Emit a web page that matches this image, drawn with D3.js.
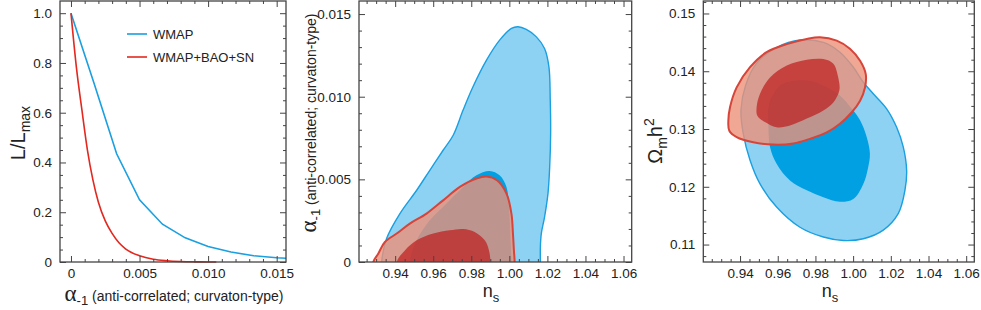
<!DOCTYPE html>
<html>
<head>
<meta charset="utf-8">
<script src="https://cdn.jsdelivr.net/npm/d3@7"></script>
<style>
  body { margin: 0; background: #fff; }
  svg { display: block; font-family: "Liberation Sans", Arial, sans-serif; }
  .tick text { font-size: 13.5px; fill: #222; }
  .tick line { stroke: #444; }
</style>
</head>
<body>
<div id="chart"></div>
<script>
// ---- panel 1: likelihood of alpha_-1 ----
const likeAlphaWMAP = [0, 0.00167, 0.00333, 0.005, 0.00667, 0.00833, 0.01, 0.01167, 0.01333, 0.015, 0.01667];
const likeWMAP = [1.0, 0.72, 0.435, 0.25, 0.152, 0.097, 0.062, 0.040, 0.025, 0.017, 0.012];
const likeAlphaAll = [0, 0.0004, 0.0008, 0.0012, 0.0016, 0.002, 0.0025, 0.003, 0.0035, 0.004, 0.005, 0.006, 0.007, 0.008, 0.009, 0.010, 0.0106];
const likeAll = [1.0, 0.78, 0.61, 0.45, 0.33, 0.24, 0.165, 0.115, 0.077, 0.052, 0.025, 0.011, 0.005, 0.002, 0.0007, 0.0002, 0];
const legendNames = ["WMAP", "WMAP+BAO+SN"];

// ---- panel 2: n_s vs alpha_-1 contours (truncated at alpha = 0) ----
const p2BlueOuter = [[0.9329,0],[0.9355,0.00142],[0.9425,0.00293],[0.9513,0.00434],[0.9582,0.00555],[0.9652,0.00676],[0.9705,0.00767],[0.9757,0.00919],[0.9809,0.0106],[0.9880,0.01221],[0.9949,0.01342],[1.0011,0.01413],[1.0045,0.01423],[1.0089,0.01407],[1.0142,0.01362],[1.0185,0.01292],[1.0208,0.01181],[1.0215,0.00979],[1.0217,0.00777],[1.0212,0.00575],[1.0203,0.00414],[1.0185,0.00272],[1.0168,0.00172],[1.0163,0.00091],[1.0163,0]];
const p2BlueInner = [[0.9477,0],[0.9513,0.00131],[0.9582,0.00252],[0.9670,0.00354],[0.9757,0.00454],[0.9827,0.00525],[0.9897,0.00551],[0.9949,0.00525],[0.9985,0.00454],[0.9998,0.00333],[1.0005,0.00172],[1.0011,0]];
const p2RedOuter = [[0.9285,0],[0.9311,0.0005],[0.9346,0.00121],[0.9408,0.00172],[0.9477,0.00232],[0.9565,0.00293],[0.9652,0.00373],[0.9740,0.00454],[0.9827,0.00505],[0.9880,0.00517],[0.9935,0.00495],[0.9985,0.00414],[1.0011,0.00293],[1.0019,0.00172],[1.0024,0.00071],[1.0028,0]];
const p2RedInner = [[0.9408,0],[0.9451,0.0007],[0.9513,0.00131],[0.9600,0.00172],[0.9687,0.00192],[0.9757,0.0020],[0.9818,0.00182],[0.9871,0.00131],[0.9893,0.0007],[0.9901,0]];

// ---- panel 3: n_s vs Omega_m h^2 contours ----
const p3BlueOuter = [[0.9417,0.1292],[0.9453,0.1246],[0.9506,0.1205],[0.9594,0.1165],[0.9718,0.1130],[0.9842,0.1113],[0.9948,0.1107],[1.0054,0.1110],[1.0160,0.1125],[1.0240,0.1154],[1.0275,0.1194],[1.0284,0.1228],[1.0266,0.1269],[1.0231,0.1303],[1.0178,0.1335],[1.0107,0.1361],[1.0054,0.1381],[1.0001,0.1407],[0.9930,0.1433],[0.9842,0.1450],[0.9718,0.1454],[0.9594,0.1441],[0.9488,0.1414],[0.9430,0.1376],[0.9405,0.1333]];
const p3BlueInner = [[0.9550,0.1315],[0.9559,0.1269],[0.9594,0.1240],[0.9665,0.1211],[0.9754,0.1194],[0.9842,0.1182],[0.9930,0.1174],[1.0001,0.1179],[1.0054,0.1205],[1.0080,0.1234],[1.0089,0.1257],[1.0072,0.1286],[1.0037,0.1315],[0.9993,0.1335],[0.9930,0.1358],[0.9860,0.1372],[0.9771,0.1383],[0.9683,0.1383],[0.9612,0.1375],[0.9568,0.1355],[0.9550,0.1335]];
const p3RedOuter = [[0.9338,0.1315],[0.9347,0.1338],[0.9382,0.1372],[0.9453,0.1407],[0.9541,0.1433],[0.9648,0.1447],[0.9754,0.1456],[0.9824,0.1459],[0.9913,0.1453],[0.9983,0.1439],[1.0037,0.1418],[1.0067,0.1395],[1.0063,0.1372],[1.0037,0.1349],[0.9993,0.1329],[0.9930,0.1309],[0.9860,0.1294],[0.9771,0.1283],[0.9683,0.1275],[0.9577,0.1273],[0.9470,0.1277],[0.9382,0.1286],[0.9343,0.1297]];
const p3RedInner = [[0.9488,0.1338],[0.9506,0.1361],[0.9559,0.1389],[0.9648,0.1410],[0.9754,0.1420],[0.9842,0.1421],[0.9895,0.1413],[0.9921,0.1389],[0.9927,0.1367],[0.9895,0.1346],[0.9842,0.1332],[0.9754,0.1318],[0.9665,0.1306],[0.9594,0.1303],[0.9532,0.1312],[0.9492,0.1323]];

// tick labels
const p1XTicks = [0, 0.005, 0.010, 0.015], p1XLabels = ["0", "0.005", "0.010", "0.015"];
const p1YTicks = [0, 0.2, 0.4, 0.6, 0.8, 1.0], p1YLabels = ["0", "0.2", "0.4", "0.6", "0.8", "1.0"];
const nsTicks = [0.94, 0.96, 0.98, 1.00, 1.02, 1.04, 1.06], nsLabels = ["0.94", "0.96", "0.98", "1.00", "1.02", "1.04", "1.06"];
const p2YTicks = [0, 0.005, 0.010, 0.015], p2YLabels = ["0", "0.005", "0.010", "0.015"];
const p3YTicks = [0.11, 0.12, 0.13, 0.14, 0.15], p3YLabels = ["0.11", "0.12", "0.13", "0.14", "0.15"];

const colBlueLine = "#1a9fe0", colRedLine = "#e2281f";
const colBlueLight = "#8ed2f3", colBlueDark = "#00a0e3";
const colRedLight = "rgba(236,145,120,0.8)", colRedDark = "rgba(188,30,32,0.72)", colRedStroke = "#d6443a";

const svg = d3.select("#chart").append("svg").attr("width", 981).attr("height", 310);

const plotTop = 1, plotBottom = 262;

function frame(g, x, y, xt, xl, yt, yl, xMinor, yMinor) {
    let w = x.range()[1], h = y.range()[0];
    g.append("g").attr("transform", `translate(0,${h})`)
        .call(d3.axisBottom(x).tickValues(xt).tickFormat((d, i) => xl[i]).tickSizeInner(-6).tickSizeOuter(0).tickPadding(6));
    g.append("g").attr("transform", `translate(0,${h})`)
        .call(d3.axisBottom(x).tickValues(xMinor).tickFormat("").tickSizeInner(-3).tickSizeOuter(0));
    g.append("g").call(d3.axisTop(x).tickValues(xt).tickFormat("").tickSizeInner(-6).tickSizeOuter(0));
    g.append("g").call(d3.axisTop(x).tickValues(xMinor).tickFormat("").tickSizeInner(-3).tickSizeOuter(0));
    g.append("g").call(d3.axisLeft(y).tickValues(yt).tickFormat((d, i) => yl[i]).tickSizeInner(-6).tickSizeOuter(0).tickPadding(8));
    g.append("g").call(d3.axisLeft(y).tickValues(yMinor).tickFormat("").tickSizeInner(-3).tickSizeOuter(0));
    g.append("g").attr("transform", `translate(${w},0)`)
        .call(d3.axisRight(y).tickValues(yt).tickFormat("").tickSizeInner(-6).tickSizeOuter(0));
    g.append("g").attr("transform", `translate(${w},0)`)
        .call(d3.axisRight(y).tickValues(yMinor).tickFormat("").tickSizeInner(-3).tickSizeOuter(0));
    g.selectAll(".domain").remove();
    g.selectAll(".tick line").attr("stroke", "#444").attr("stroke-width", 1);
    g.append("rect").attr("x", 0).attr("y", 0).attr("width", w).attr("height", h)
        .attr("fill", "none").attr("stroke", "#444").attr("stroke-width", 1.3);
}

function minors(a, b, step, majors) {
    return d3.range(Math.ceil(a / step - 1e-6), Math.floor(b / step + 1e-6) + 1)
        .map(k => +(k * step).toFixed(6))
        .filter(v => !majors.some(m => Math.abs(m - v) < step / 10));
}

// ---------------- panel 1 ----------------
let p1 = svg.append("g").attr("transform", `translate(60,${plotTop})`);
let x1 = d3.scaleLinear().domain([-0.0008, 0.01568]).range([0, 226]);
let y1 = d3.scaleLinear().domain([0, 1.049]).range([plotBottom - plotTop, 0]);
p1.append("clipPath").attr("id", "clip1").append("rect").attr("width", 226).attr("height", plotBottom - plotTop);
let line1 = d3.line().x(d => x1(d[0])).y(d => y1(d[1]));
p1.append("path").datum(d3.zip(likeAlphaWMAP, likeWMAP))
    .attr("clip-path", "url(#clip1)")
    .attr("d", line1).attr("fill", "none").attr("stroke", colBlueLine).attr("stroke-width", 1.6);
p1.append("path").datum(d3.zip(likeAlphaAll, likeAll))
    .attr("d", line1.curve(d3.curveMonotoneX)).attr("fill", "none").attr("stroke", colRedLine).attr("stroke-width", 1.6);
frame(p1, x1, y1, p1XTicks, p1XLabels, p1YTicks, p1YLabels,
    minors(0, 0.0156, 0.001, p1XTicks), minors(0, 1.04, 0.05, p1YTicks));

// legend
let leg = p1.append("g").attr("transform", "translate(67,33)");
[colBlueLine, colRedLine].forEach((c, i) => {
    leg.append("line").attr("x1", 0).attr("x2", 20).attr("y1", i * 23).attr("y2", i * 23)
        .attr("stroke", c).attr("stroke-width", 1.6);
    leg.append("text").attr("x", 26).attr("y", i * 23 + 5).attr("font-size", "13px").attr("fill", "#222")
        .text(legendNames[i]);
});

// axis titles panel 1
let t1 = svg.append("text").attr("transform", "translate(25,133) rotate(-90)")
    .attr("text-anchor", "middle").attr("fill", "#222");
t1.append("tspan").attr("font-size", "20px").text("L/L");
t1.append("tspan").attr("font-size", "14px").attr("dy", 5).text("max");

function alphaLabel(sel) {
    sel.append("tspan").attr("font-size", "23px").attr("font-family", "Liberation Serif, serif").text("α");
    sel.append("tspan").attr("font-size", "13px").attr("dy", 4).text("-1");
    sel.append("tspan").attr("font-size", "14px").attr("dy", -4).text(" (anti-correlated; curvaton-type)");
}
svg.append("text").attr("x", 174).attr("y", 301).attr("text-anchor", "middle").attr("fill", "#222").call(alphaLabel);

// ---------------- panel 2 ----------------
let p2 = svg.append("g").attr("transform", `translate(359,${plotTop})`);
let x2 = d3.scaleLinear().domain([0.921, 1.0643]).range([0, 272.7]);
let y2 = d3.scaleLinear().domain([0, 0.01579]).range([plotBottom - plotTop, 0]);
p2.append("clipPath").attr("id", "clip2").append("rect").attr("width", 272.7).attr("height", plotBottom - plotTop);
let cont2 = d3.line().x(d => x2(d[0])).y(d => y2(d[1])).curve(d3.curveCatmullRomClosed.alpha(0.5));
// extend truncated contours below alpha = 0 so the clip gives a straight cut
function cut(pts) {
    let a = pts[0], b = pts[pts.length - 1];
    return [[a[0], -0.0012]].concat(pts, [[b[0], -0.0012]]);
}
let c2 = p2.append("g").attr("clip-path", "url(#clip2)");
c2.append("path").attr("d", cont2(cut(p2BlueOuter))).attr("fill", colBlueLight).attr("stroke", colBlueLine).attr("stroke-width", 1.4);
c2.append("path").attr("d", cont2(cut(p2BlueInner))).attr("fill", colBlueDark);
c2.append("path").attr("d", cont2(cut(p2RedOuter))).attr("fill", colRedLight).attr("stroke", colRedStroke).attr("stroke-width", 2);
c2.append("path").attr("d", cont2(cut(p2RedInner))).attr("fill", colRedDark);
frame(p2, x2, y2, nsTicks, nsLabels, p2YTicks, p2YLabels,
    minors(0.925, 1.064, 0.005, nsTicks), minors(0, 0.0157, 0.001, p2YTicks));

svg.append("text").attr("transform", "translate(316,123) rotate(-90)")
    .attr("text-anchor", "middle").attr("fill", "#222").call(alphaLabel);

function nsLabel(x) {
    let t = svg.append("text").attr("x", x).attr("y", 297).attr("text-anchor", "middle").attr("fill", "#222");
    t.append("tspan").attr("font-size", "18px").text("n");
    t.append("tspan").attr("font-size", "13px").attr("dy", 5).text("s");
}
nsLabel(491);

// ---------------- panel 3 ----------------
let p3 = svg.append("g").attr("transform", `translate(703.3,${plotTop})`);
let x3 = d3.scaleLinear().domain([0.9205, 1.0643]).range([0, 271]);
let y3 = d3.scaleLinear().domain([0.10698, 0.15216]).range([plotBottom - plotTop, 0]);
let cont3 = d3.line().x(d => x3(d[0])).y(d => y3(d[1])).curve(d3.curveCatmullRomClosed.alpha(0.5));
p3.append("path").attr("d", cont3(p3BlueOuter)).attr("fill", colBlueLight).attr("stroke", colBlueLine).attr("stroke-width", 1.4);
p3.append("path").attr("d", cont3(p3BlueInner)).attr("fill", colBlueDark);
p3.append("path").attr("d", cont3(p3RedOuter)).attr("fill", colRedLight).attr("stroke", colRedStroke).attr("stroke-width", 2);
p3.append("path").attr("d", cont3(p3RedInner)).attr("fill", colRedDark);
frame(p3, x3, y3, nsTicks, nsLabels, p3YTicks, p3YLabels,
    minors(0.925, 1.064, 0.005, nsTicks), minors(0.108, 0.152, 0.002, p3YTicks));

let t3 = svg.append("text").attr("transform", "translate(662,141) rotate(-90)")
    .attr("text-anchor", "middle").attr("fill", "#222");
t3.append("tspan").attr("font-size", "20px").text("Ω");
t3.append("tspan").attr("font-size", "14px").attr("dy", 5).text("m");
t3.append("tspan").attr("font-size", "20px").attr("dy", -5).text("h");
t3.append("tspan").attr("font-size", "14px").attr("dy", -8).text("2");
nsLabel(830);
</script>
</body>
</html>
